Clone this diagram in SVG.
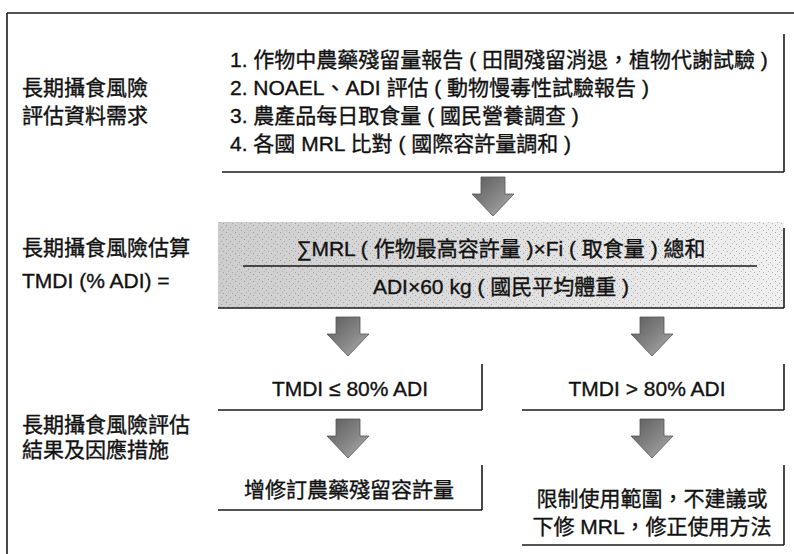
<svg xmlns="http://www.w3.org/2000/svg" width="794" height="554" viewBox="0 0 794 554">
<style>
.t{font-family:"Liberation Sans","Noto Sans CJK TC",sans-serif;font-size:21px;fill:#111;stroke:#111;stroke-width:0.35;}
.c{text-anchor:middle;}
.ln{stroke:#1a1a1a;stroke-width:1.6;fill:none;}
.arr{fill:url(#ag);stroke:#555;stroke-width:0.8;}
</style>
<defs>
<linearGradient id="ag" x1="0" y1="0" x2="1" y2="1">
<stop offset="0" stop-color="#5a5a5a"/>
<stop offset="0.6" stop-color="#8a8a8a"/>
<stop offset="1" stop-color="#b5b5b5"/>
</linearGradient>
<linearGradient id="fg" x1="0" y1="0" x2="1" y2="0">
<stop offset="0" stop-color="#cdcdcd"/>
<stop offset="0.5" stop-color="#dedede"/>
<stop offset="1" stop-color="#f0f0f0"/>
</linearGradient>
<pattern id="dots" width="9" height="7" patternUnits="userSpaceOnUse">
<rect x="1" y="1" width="1" height="1" fill="#777"/>
<rect x="5" y="3" width="1" height="1" fill="#888"/>
<rect x="3" y="5" width="1" height="1" fill="#999"/>
<rect x="7" y="6" width="1" height="1" fill="#888"/>
</pattern>
<path id="arrow" d="M-12,0 H12 V17 H21 L0,39 L-21,17 H-12 Z"/>
</defs>

<g id="frame">
<line class="ln" x1="7" y1="13" x2="794" y2="13"/>
<line class="ln" x1="7" y1="13" x2="7" y2="554"/>
</g>

<g id="label-data">
<text class="t" x="22" y="95">長期攝食風險</text>
<text class="t" x="22" y="123">評估資料需求</text>
</g>

<g id="box-data">
<line class="ln" x1="784" y1="34" x2="784" y2="172"/>
<line class="ln" x1="222" y1="172" x2="784" y2="172"/>
<text class="t" x="230" y="67">1. 作物中農藥殘留量報告 ( 田間殘留消退，植物代謝試驗 )</text>
<text class="t" x="230" y="95">2. NOAEL、ADI 評估 ( 動物慢毒性試驗報告 )</text>
<text class="t" x="230" y="123">3. 農產品每日取食量 ( 國民營養調查 )</text>
<text class="t" x="230" y="151">4. 各國 MRL 比對 ( 國際容許量調和 )</text>
</g>

<g id="label-calc">
<text class="t" x="22" y="255">長期攝食風險估算</text>
<text class="t" x="22" y="288">TMDI (% ADI) =</text>
</g>

<g id="box-formula">
<rect x="218" y="222" width="566" height="86" fill="url(#fg)"/>
<rect x="218" y="222" width="566" height="86" fill="url(#dots)" opacity="0.6"/>
<line class="ln" x1="784" y1="228" x2="784" y2="308"/>
<line class="ln" x1="218" y1="308" x2="784" y2="308"/>
<line x1="243" y1="266" x2="757" y2="266" stroke="#1a1a1a" stroke-width="1.4"/>
<text class="t c" x="501" y="256" font-size="21.5">∑MRL ( 作物最高容許量 )×Fi ( 取食量 ) 總和</text>
<text class="t c" x="501" y="294" font-size="21.5">ADI×60 kg ( 國民平均體重 )</text>
</g>

<g id="label-result">
<text class="t" x="22" y="432">長期攝食風險評估</text>
<text class="t" x="22" y="457">結果及因應措施</text>
</g>

<g id="box-low">
<line class="ln" x1="482" y1="364" x2="482" y2="410"/>
<line class="ln" x1="218" y1="410" x2="482" y2="410"/>
<text class="t c" x="350" y="396">TMDI ≤ 80% ADI</text>
</g>

<g id="box-high">
<line class="ln" x1="784" y1="364" x2="784" y2="410"/>
<line class="ln" x1="522" y1="410" x2="784" y2="410"/>
<text class="t c" x="647" y="396">TMDI &gt; 80% ADI</text>
</g>

<g id="box-action-low">
<line class="ln" x1="482" y1="465" x2="482" y2="510"/>
<line class="ln" x1="218" y1="510" x2="482" y2="510"/>
<text class="t c" x="349" y="497" font-size="21.5">增修訂農藥殘留容許量</text>
</g>

<g id="box-action-high">
<line class="ln" x1="784" y1="465" x2="784" y2="545"/>
<line class="ln" x1="522" y1="545" x2="784" y2="545"/>
<text class="t c" x="652" y="506" font-size="21.5">限制使用範圍，不建議或</text>
<text class="t c" x="652" y="534" font-size="21.5">下修 MRL，修正使用方法</text>
</g>

<g id="connectors">
<use href="#arrow" class="arr" transform="translate(493,177)"/>
<use href="#arrow" class="arr" transform="translate(348,317)"/>
<use href="#arrow" class="arr" transform="translate(652,317)"/>
<use href="#arrow" class="arr" transform="translate(348,419)"/>
<use href="#arrow" class="arr" transform="translate(652,419)"/>
</g>
</svg>
